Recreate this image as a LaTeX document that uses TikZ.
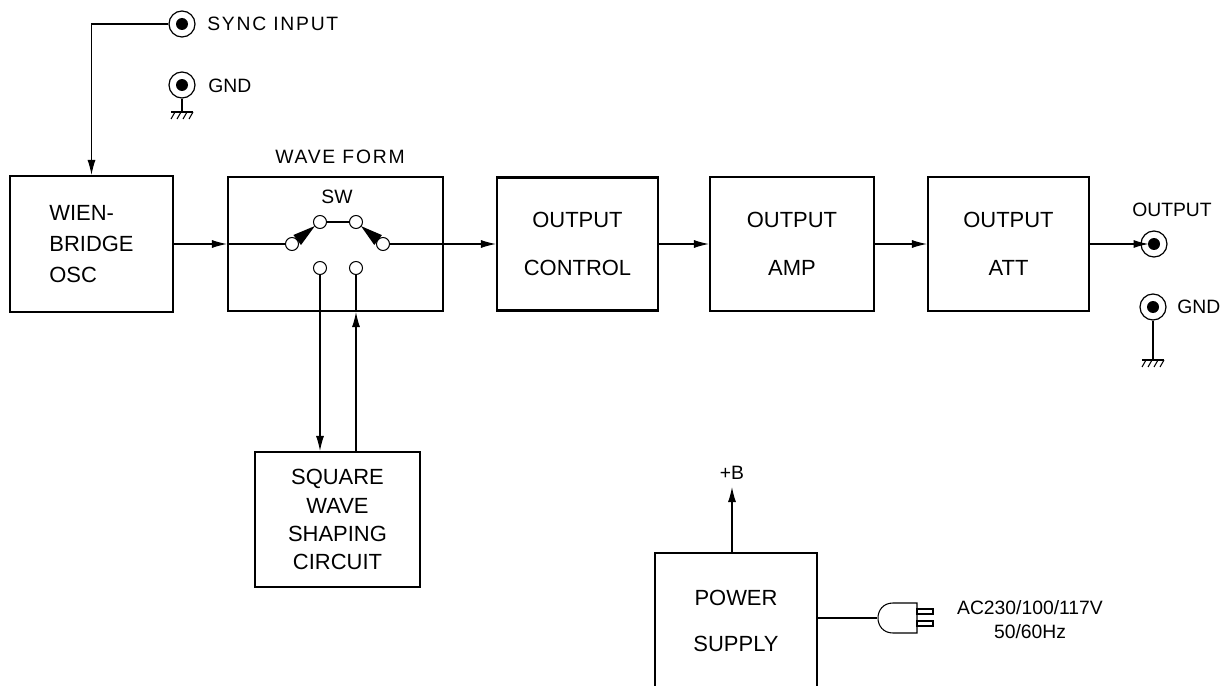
\documentclass[tikz,border=0pt]{standalone}
\usepackage{fontspec}
\setmainfont{Liberation Sans}
\usetikzlibrary{arrows.meta}
\begin{document}
\begin{tikzpicture}[x=0.02cm, y=-0.02cm]
        \tikzstyle{block}=[draw, line width=1.2pt, inner sep=0pt, align=center, font={\fontsize{12.5}{17.6}\selectfont}]
        \tikzstyle{jack}=[circle, draw, line width=0.7pt, minimum size=5.2mm, inner sep=0pt, path picture={\fill (path picture bounding box.center) circle (1.2mm);}]
        \tikzstyle{contact}=[circle, draw, line width=0.6pt, minimum size=2.6mm, inner sep=0pt]
        \tikzstyle{lbl}=[inner sep=0pt, font={\fontsize{11}{13.6}\selectfont}]
        \tikzstyle{widelbl}=[lbl, font={\fontsize{11}{13.6}\selectfont\addfontfeatures{LetterSpace=9}}]
        \tikzstyle{sig}=[-{Latex[length=3mm, width=1.6mm]}, line width=0.6pt]
        \tikzstyle{wire}=[line width=0.6pt]

        \useasboundingbox (0,0) rectangle (1221,686);
        \clip (0,0) rectangle (1221,686);
        % \draw[step=50, gray!30] (0,0) grid (1221,686);

        \node[block, minimum width=3.26cm, minimum height=2.72cm, align=left] (wien) at (91.5,244) {WIEN-\\BRIDGE\\OSC};
        \node[block, minimum width=4.30cm, minimum height=2.68cm] (wave) at (335.5,244) {};
        \node[block, minimum width=3.22cm, minimum height=2.66cm] (control) at (577.5,244) {OUTPUT\\[10pt]CONTROL};
        \node[block, minimum width=3.28cm, minimum height=2.68cm] (amp) at (792,244) {OUTPUT\\[10pt]AMP};
        \node[block, minimum width=3.22cm, minimum height=2.68cm] (att) at (1008.5,244) {OUTPUT\\[10pt]ATT};
        \node[block, minimum width=3.30cm, minimum height=2.70cm, font={\fontsize{12.5}{16}\selectfont}] (square) at (337.5,519.5) {SQUARE\\WAVE\\SHAPING\\CIRCUIT};
        \node[block, minimum width=3.24cm, minimum height=2.72cm] (power) at (736,621) {POWER\\[9pt]SUPPLY};
        \node[widelbl] (wavelbl) at (340,157) {WAVE FORM};

        \node[jack] (sync) at (182,24) {};
        \node[jack] (gndin) at (182,85) {};
        \node[jack] (outjack) at (1154,244) {};
        \node[jack] (gndout) at (1153,307) {};
        \node[widelbl, anchor=west] (synclbl) at (207,24) {SYNC INPUT};
        \node[lbl, anchor=west] (gndinlbl) at (208,86) {GND};
        \node[lbl] (outlbl) at (1172,210) {OUTPUT};
        \node[lbl, anchor=west] (gndoutlbl) at (1177,307) {GND};

        % switch
        \node[lbl] (swlbl) at (337,197) {SW};
        \node[contact] (p1) at (292,244) {};
        \node[contact] (p2) at (383,244) {};
        \node[contact] (t1) at (320,222) {};
        \node[contact] (t2) at (356,222) {};
        \node[contact] (b1) at (320,268) {};
        \node[contact] (b2) at (356,268) {};
        \draw[wire] (t1) -- (t2);
        \fill (301.0,245.0) -- (293.4,235.0) -- (314.9,226.0) -- cycle;
        \fill (381.9,235.1) -- (374.3,245.0) -- (361.0,226.1) -- cycle;

        \draw[sig] (sync.west) -| (wien.north);
        \draw[sig] (wien.east) -- (wave.west);
        \draw[wire] (wave.west) -- (p1);
        \draw[sig] (p2) -- (control.west);
        \draw[sig] (control) -- (amp);
        \draw[sig] (amp) -- (att);
        \draw[sig, shorten >=1.1mm] (att.east) -- (outjack.center);
        \draw[sig] (b1) -- (b1 |- square.north);
        \draw[sig] (b2 |- square.north) -- (b2 |- wave.south);
        \draw[wire] (b2 |- wave.south) -- (b2);

        \coordinate (g1) at (182,112);
        \coordinate (g2) at (1153,360);
        \draw[wire] (gndin.south) -- (g1);
        \draw[wire] (gndout.south) -- (g2);
        \foreach \g in {g1,g2} {
            \draw[line width=0.8pt, shift={(\g)}] (-11,0) -- (11,0);
            \foreach \k in {-7,-1,5,11}
                \draw[wire, shift={(\g)}] (\k,0) -- ++(-4,7);
        }

        \node[lbl] (plusb) at (732,473) {+B};
        \draw[sig, shorten >=4pt] (power.north -| plusb) -- (plusb.south);

        \coordinate (plug) at (877,618);
        \draw[wire] (power.east |- plug) -- (plug);
        \begin{scope}[shift={(plug)}]
            \draw[wire] (40,-15) -- (16,-15) .. controls (-4,-15) and (-4,15) .. (16,15) -- (40,15) -- cycle;
            \draw[wire] (40,-9) rectangle (56,-4);
            \draw[wire] (40,3) rectangle (56,8);
        \end{scope}
        \node[lbl, align=center] (mains) at (1030,620) {AC230/100/117V\\50/60Hz};
    \end{tikzpicture}
\end{document}
